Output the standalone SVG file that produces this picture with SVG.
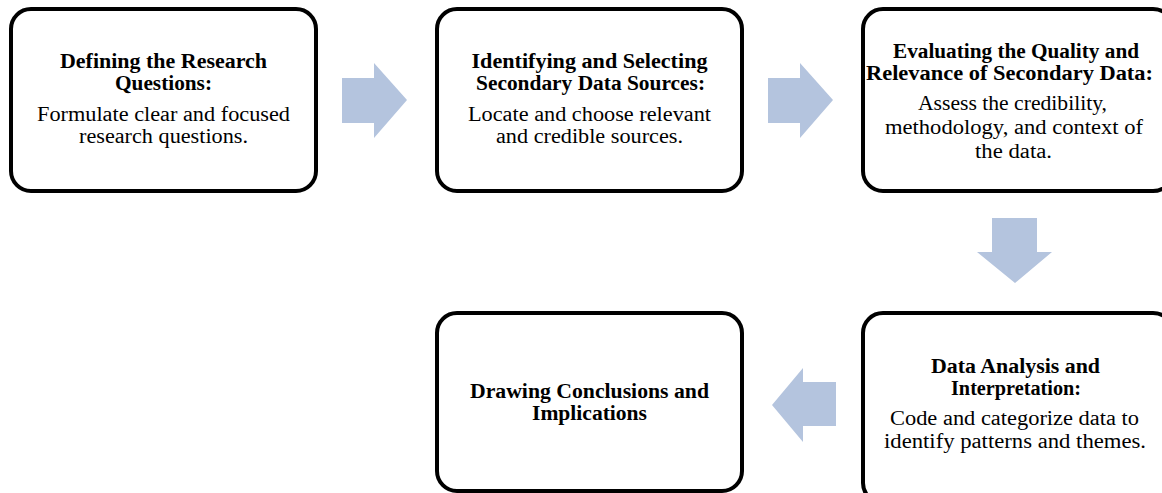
<svg xmlns="http://www.w3.org/2000/svg" width="1162" height="493" viewBox="0 0 1162 493">
<style>
.box{fill:#fff;stroke:#000;stroke-width:4}
.t{font-family:"Liberation Serif",serif;font-size:20px;font-weight:bold;text-anchor:middle;fill:#000}
.b{font-family:"Liberation Serif",serif;font-size:20px;text-anchor:middle;fill:#000}
.arr{fill:#b4c4de}
</style>
<rect width="1162" height="493" fill="#fff"/>
<g id="connectors">
<polygon class="arr" points="342,78 374,78 374,63 407,100 374,138 374,123 342,123"/>
<polygon class="arr" points="768,78 800,78 800,63 833,100 800,138 800,123 768,123"/>
<polygon class="arr" points="992,218 1037,218 1037,252 1052,252 1015,283 977,252 992,252"/>
<polygon class="arr" points="836,382 803,382 803,368 772,405 803,442 803,426 836,426"/>
</g>
<g id="n1">
<rect class="box" x="11" y="9" width="305" height="182" rx="20"/>
<text class="t" x="163.5" y="68" textLength="207" lengthAdjust="spacingAndGlyphs">Defining the Research</text>
<text class="t" x="163.5" y="90" textLength="97" lengthAdjust="spacingAndGlyphs">Questions:</text>
<text class="b" x="163.5" y="121" textLength="253" lengthAdjust="spacingAndGlyphs">Formulate clear and focused</text>
<text class="b" x="163.5" y="143" textLength="169" lengthAdjust="spacingAndGlyphs">research questions.</text>
</g>
<g id="n2">
<rect class="box" x="437" y="9" width="305" height="182" rx="20"/>
<text class="t" x="589.5" y="68" textLength="236" lengthAdjust="spacingAndGlyphs">Identifying and Selecting</text>
<text class="t" x="590.5" y="90" textLength="229" lengthAdjust="spacingAndGlyphs">Secondary Data Sources:</text>
<text class="b" x="589.5" y="121" textLength="243" lengthAdjust="spacingAndGlyphs">Locate and choose relevant</text>
<text class="b" x="589.5" y="143" textLength="187" lengthAdjust="spacingAndGlyphs">and credible sources.</text>
</g>
<g id="n3">
<rect class="box" x="863" y="9" width="310" height="182" rx="20"/>
<text class="t" x="1016" y="58" textLength="246" lengthAdjust="spacingAndGlyphs">Evaluating the Quality and</text>
<text class="t" x="1009.5" y="80" textLength="287" lengthAdjust="spacingAndGlyphs">Relevance of Secondary Data:</text>
<text class="b" x="1012.5" y="110" textLength="189" lengthAdjust="spacingAndGlyphs">Assess the credibility,</text>
<text class="b" x="1014" y="134" textLength="258" lengthAdjust="spacingAndGlyphs">methodology, and context of</text>
<text class="b" x="1013.5" y="158" textLength="77" lengthAdjust="spacingAndGlyphs">the data.</text>
</g>
<g id="n4">
<rect class="box" x="863" y="313" width="310" height="190" rx="20"/>
<text class="t" x="1015.5" y="373" textLength="169" lengthAdjust="spacingAndGlyphs">Data Analysis and</text>
<text class="t" x="1016" y="395" textLength="130" lengthAdjust="spacingAndGlyphs">Interpretation:</text>
<text class="b" x="1014.5" y="425" textLength="249" lengthAdjust="spacingAndGlyphs">Code and categorize data to</text>
<text class="b" x="1015" y="448" textLength="262" lengthAdjust="spacingAndGlyphs">identify patterns and themes.</text>
</g>
<g id="n5">
<rect class="box" x="437" y="313" width="305" height="178" rx="20"/>
<text class="t" x="589.5" y="398" textLength="239" lengthAdjust="spacingAndGlyphs">Drawing Conclusions and</text>
<text class="t" x="589.5" y="420" textLength="115" lengthAdjust="spacingAndGlyphs">Implications</text>
</g>
</svg>
